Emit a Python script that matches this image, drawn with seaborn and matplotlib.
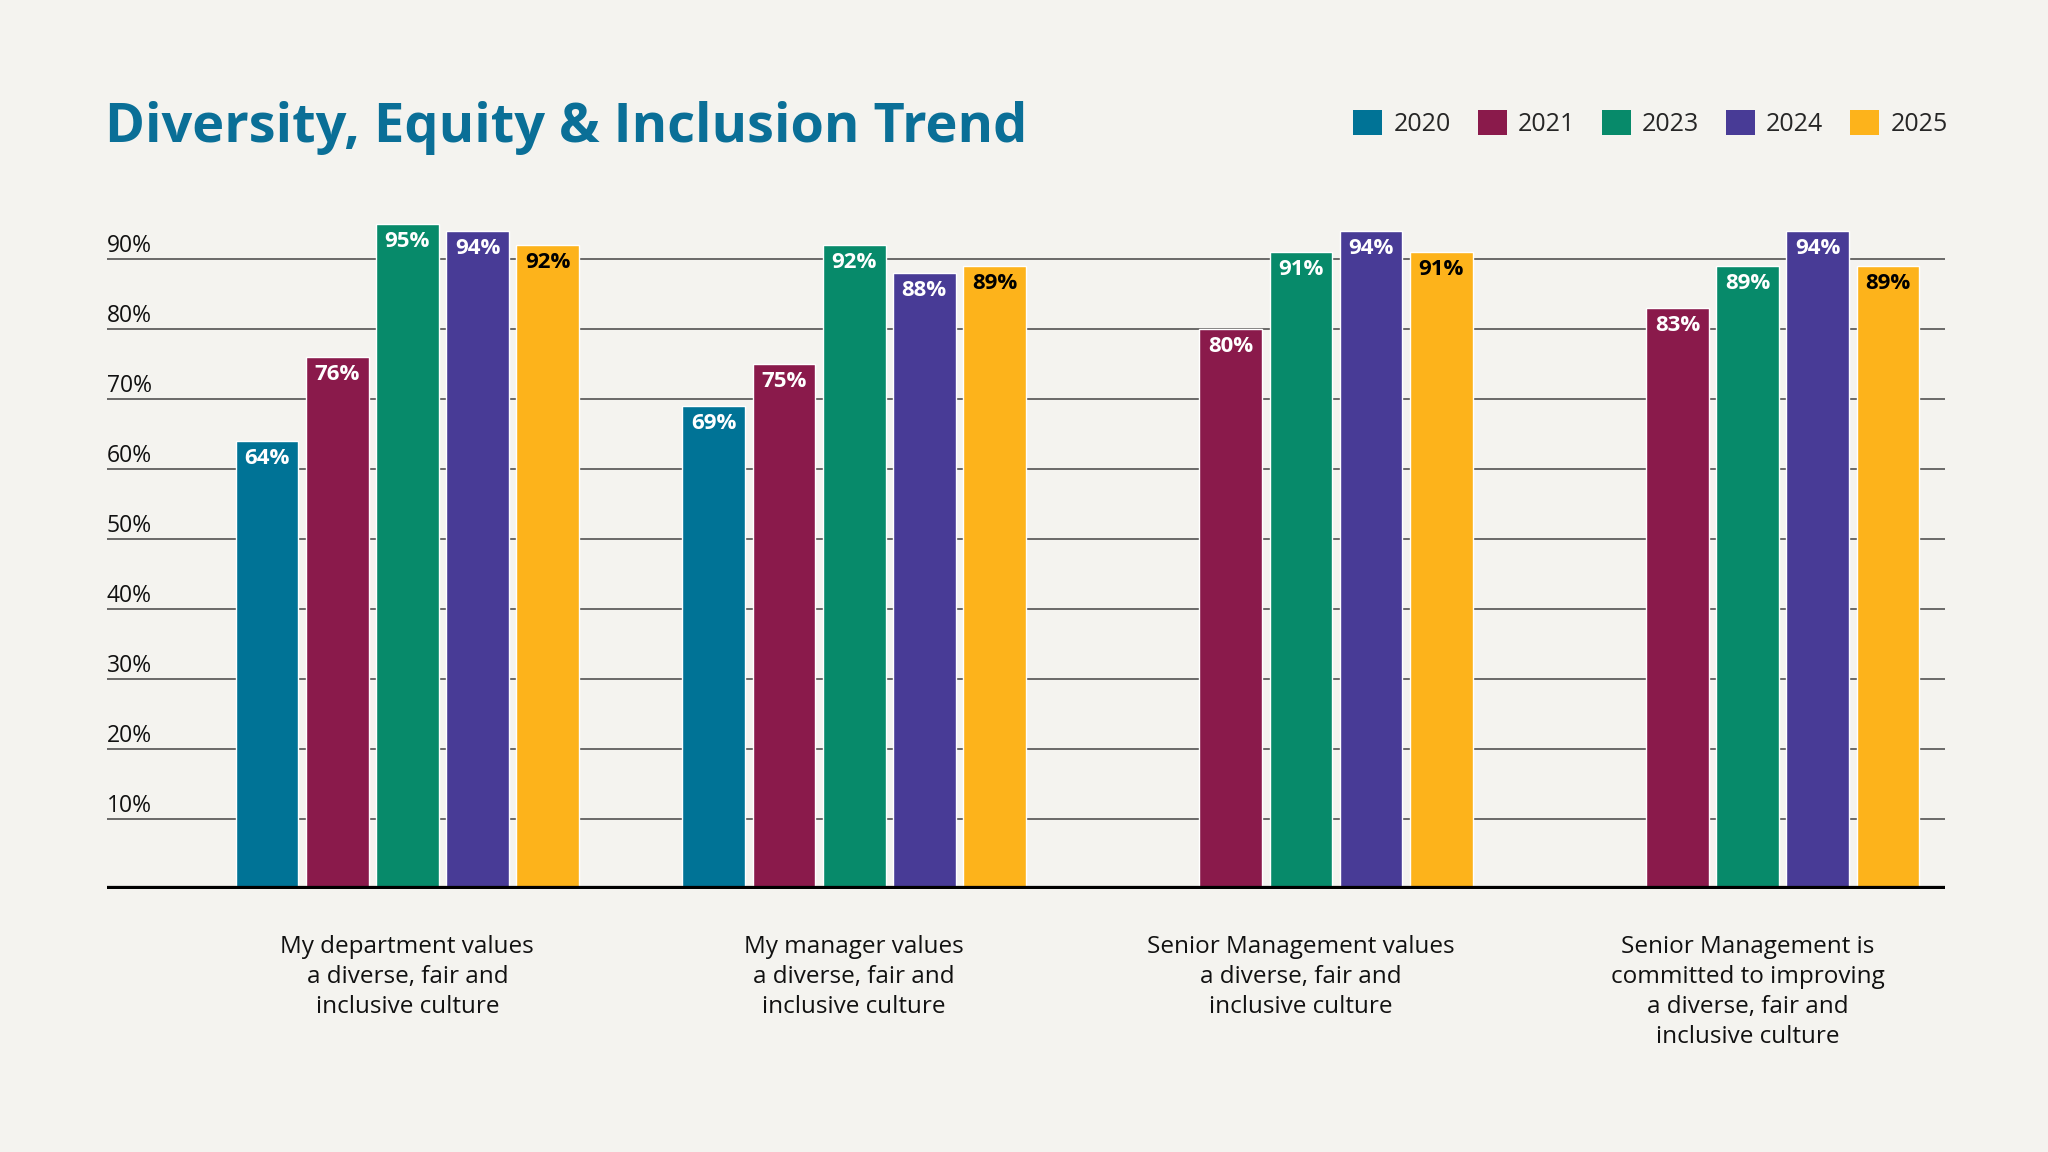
import matplotlib.pyplot as plt
import pandas as pd
import seaborn as sns
from matplotlib.patches import Patch

# Data
categories = [
    "My department values\na diverse, fair and\ninclusive culture",
    "My manager values\na diverse, fair and\ninclusive culture",
    "Senior Management values\na diverse, fair and\ninclusive culture",
    "Senior Management is\ncommitted to improving\na diverse, fair and\ninclusive culture",
]
years = ["2020", "2021", "2023", "2024", "2025"]
values_2020 = [64, 69, None, None]
values_2021 = [76, 75, 80, 83]
values_2023 = [95, 92, 91, 89]
values_2024 = [94, 88, 94, 94]
values_2025 = [92, 89, 91, 89]
y_ticks = [10, 20, 30, 40, 50, 60, 70, 80, 90]

colors = ["#007396", "#8A1A4B", "#078A6A", "#483B96", "#FDB31B"]
bg = "#F4F3EF"

rows = []
for year, vals in zip(years, [values_2020, values_2021, values_2023, values_2024, values_2025]):
    for cat, v in zip(categories, vals):
        if v is not None:
            rows.append({"question": cat, "year": year, "value": v})
df = pd.DataFrame(rows)

sns.set_style("white")
plt.rcParams["font.family"] = ["Open Sans", "DejaVu Sans"]

fig = plt.figure(figsize=(20.48, 11.52), dpi=100, facecolor=bg)
ax = fig.add_axes([0.0522, 0.2283, 0.8975, 0.6076])
ax.set_facecolor(bg)

sns.barplot(data=df, x="question", y="value", hue="year", order=categories,
            hue_order=years, palette=colors, width=0.785, gap=0.105,
            saturation=1, legend=False, ax=ax, zorder=2)

ax.set_xlim(-0.6725, 3.4415)
ax.set_ylim(0, 100)
ax.set_yticks(y_ticks)
ax.set_yticklabels([])
ax.yaxis.grid(True, color="#444444", linewidth=1.1)
ax.set_axisbelow(True)
ax.tick_params(axis="both", length=0)
ax.tick_params(axis="x", pad=33, labelsize=17.5, labelcolor="#111111")
for lbl in ax.get_xticklabels():
    lbl.set_linespacing(1.34)
ax.set_xlabel("")
ax.set_ylabel("")
sns.despine(ax=ax, left=True, bottom=True)
ax.axhline(0, color="black", linewidth=4.5, zorder=5)

# y labels sit above their gridlines
for t in y_ticks:
    ax.annotate(f"{t}%", (0, t), xycoords=ax.get_yaxis_transform(),
                xytext=(0, 0.5), textcoords="offset points",
                ha="left", va="bottom", fontsize=16.5, color="#111111")

# value labels inside bar tops
for i, cont in enumerate(ax.containers):
    txt_color = "black" if years[i] == "2025" else "white"
    for bar in cont:
        h = bar.get_height()
        if pd.isna(h) or h == 0:
            continue
        ax.annotate(f"{h:.0f}%", (bar.get_x() + bar.get_width() / 2, h),
                    xytext=(0, -12.5), textcoords="offset points",
                    ha="center", va="center", fontsize=16, fontweight="bold",
                    color=txt_color, zorder=6)

fig.text(0.0513, 0.8767, "Diversity, Equity & Inclusion Trend", fontsize=39,
         fontweight="bold", color="#0A6F97", ha="left", va="baseline")

handles = [Patch(facecolor=c, edgecolor="none", label=y) for c, y in zip(colors, years)]
fig.legend(handles=handles, loc="center right", bbox_to_anchor=(0.951, 0.893),
           ncol=5, frameon=False, fontsize=18, handlelength=1.16, handleheight=1.16,
           handletextpad=0.44, columnspacing=1.08, borderaxespad=0, borderpad=0)

fig.savefig("out.png", dpi=100, facecolor=bg)
